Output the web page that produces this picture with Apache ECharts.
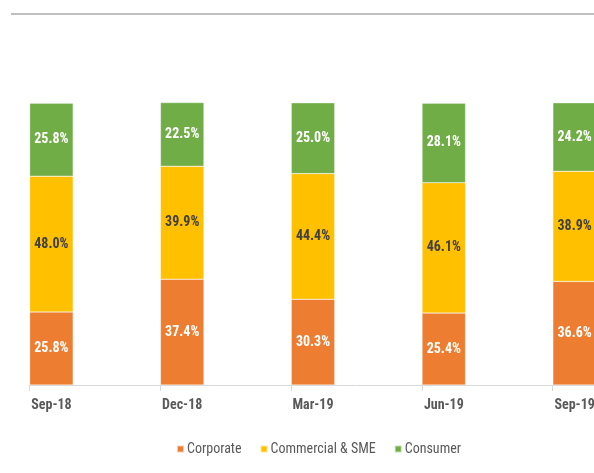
<!DOCTYPE html>
<html>
<head>
<meta charset="utf-8">
<script src="https://cdn.jsdelivr.net/npm/echarts@6/dist/echarts.min.js"></script>
<style>
html,body{margin:0;padding:0;background:#fff;overflow:hidden;width:594px;height:473px;}
#chart{width:684px;height:473px;}
</style>
</head>
<body>
<div id="chart"></div>
<script>
const categories = ['Sep-18', 'Dec-18', 'Mar-19', 'Jun-19', 'Sep-19'];
const corporate = [25.8, 37.4, 30.3, 25.4, 36.6];
const commercial = [48.0, 39.9, 44.4, 46.1, 38.9];
const consumer = [25.8, 22.5, 25.0, 28.1, 24.2];
const seriesNames = ['Corporate', 'Commercial & SME', 'Consumer'];
const colors = ['#ED7D31', '#FFC000', '#70AD47'];
const labelColors = ['#ffffff', '#404040', '#ffffff'];

const FONT = '"Roboto Condensed", "Liberation Sans Narrow", sans-serif';
const chart = echarts.init(document.getElementById('chart'), null, {renderer: 'canvas'});

function segSeries(name, data, i) {
  return {
    name: name,
    type: 'bar',
    stack: 'mix',
    data: data,
    barWidth: 43.5,
    barGap: '0%',
    itemStyle: {color: colors[i], borderColor: 'rgba(255,255,255,0.6)', borderWidth: 0.5},
    label: {
      show: true,
      position: 'inside',
      formatter: p => p.value.toFixed(1) + '%',
      color: labelColors[i],
      fontFamily: FONT,
      fontWeight: 'bold',
      fontSize: 14
    },
    emphasis: {disabled: true}
  };
}

const option = {
  animation: false,
  backgroundColor: '#ffffff',
  grid: {left: 29.5, right: 0.5, top: 102, bottom: 88, containLabel: false},
  legend: {
    data: seriesNames,
    top: 437,
    left: 171,
    itemWidth: 7,
    itemHeight: 7,
    itemGap: 18,
    icon: 'rect',
    textStyle: {fontFamily: FONT, fontSize: 14, color: '#595959', padding: [0, 0, 0, -2]}
  },
  xAxis: {
    type: 'category',
    data: categories,
    boundaryGap: true,
    axisLine: {show: true, lineStyle: {color: '#d9d9d9', width: 1}},
    axisTick: {show: true, length: 6, lineStyle: {color: '#d9d9d9'}},
    axisLabel: {
      interval: 0,
      margin: 13,
      padding: [0, 87, 0, 0],
      color: '#595959',
      fontFamily: FONT,
      fontWeight: 'bold',
      fontSize: 14
    }
  },
  yAxis: {
    type: 'value',
    min: 0,
    max: 100,
    show: false,
    splitLine: {show: false}
  },
  graphic: [{
    type: 'line',
    shape: {x1: 11, y1: 14, x2: 594, y2: 14},
    style: {stroke: '#bfbfbf', lineWidth: 2}
  }],
  series: [
    segSeries(seriesNames[0], corporate, 0),
    segSeries(seriesNames[1], commercial, 1),
    segSeries(seriesNames[2], consumer, 2),
    {name: 'spacer1', type: 'bar', stack: 'g2', data: [], barWidth: 43.5, barGap: '0%', silent: true},
    {name: 'spacer2', type: 'bar', stack: 'g3', data: [], barWidth: 43.5, barGap: '0%', silent: true}
  ]
};
chart.setOption(option);
</script>
</body>
</html>
